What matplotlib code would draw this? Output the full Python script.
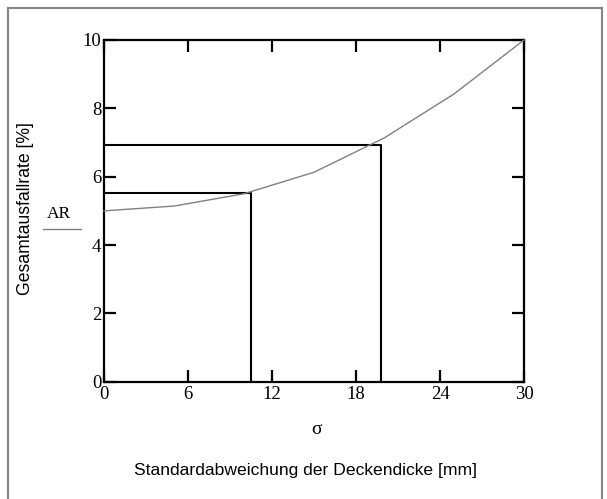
import matplotlib
matplotlib.use("Agg")
import matplotlib.pyplot as plt
from matplotlib.patches import Rectangle

# Data
sigma = [0, 5, 10, 15, 20, 25, 30]
ar = [5.0, 5.14, 5.5, 6.13, 7.13, 8.42, 10.0]
marker_x = [10.5, 19.8]
marker_y = [5.52, 6.93]
x_ticks = [0, 6, 12, 18, 24, 30]
y_ticks = [0, 2, 4, 6, 8, 10]

W, H = 607, 499
fig = plt.figure(figsize=(W / 100, H / 100), dpi=100)
ax = fig.add_axes([104 / W, 1 - 381.7 / H, 420 / W, (381.7 - 40) / H])

ax.plot(sigma, ar, color="#808080", lw=1.0, clip_on=False, zorder=3)
for xv, yv in zip(marker_x, marker_y):
    ax.plot([0, xv, xv], [yv, yv, 0], color="black", lw=1.5, zorder=2)

ax.set_xlim(0, 30)
ax.set_ylim(0, 10)
ax.set_xticks(x_ticks)
ax.set_yticks(y_ticks)
ax.set_xticklabels([str(t) for t in x_ticks], family="Liberation Serif", fontsize=13.5)
ax.set_yticklabels([str(t) for t in y_ticks], family="Liberation Serif", fontsize=13.5)
ax.tick_params(direction="in", length=8.5, width=1.6, top=True, right=True,
               pad=2, color="black")
ax.tick_params(axis="x", pad=3)
for s in ax.spines.values():
    s.set_linewidth(1.6)
    s.set_color("black")

# sigma label under axis
fig.text(316 / W, 1 - 430 / H, "σ", family="Liberation Serif", fontsize=14,
         ha="center", va="center")
fig.text(306 / W, 1 - 471 / H, "Standardabweichung der Deckendicke [mm]",
         family="Liberation Sans", fontsize=12.6, ha="center", va="center")
fig.text(26 / W, 1 - 209 / H, "Gesamtausfallrate [%]", family="Liberation Sans",
         fontsize=12.7, ha="center", va="center", rotation=90)
fig.text(59 / W, 1 - 214 / H, "AR", family="Liberation Serif", fontsize=12.5,
         ha="center", va="center")
fig.add_artist(plt.Line2D([43 / W, 81 / W], [1 - 229 / H, 1 - 229 / H],
                          color="#808080", lw=1.0, transform=fig.transFigure))

# outer gray frame
fig.add_artist(Rectangle((7.5 / W, -0.05), (602 - 7.5) / W, 1.05 - 7.5 / H,
                         transform=fig.transFigure, fill=False,
                         edgecolor="#858585", lw=1.5))

fig.savefig("out.png", dpi=100)
